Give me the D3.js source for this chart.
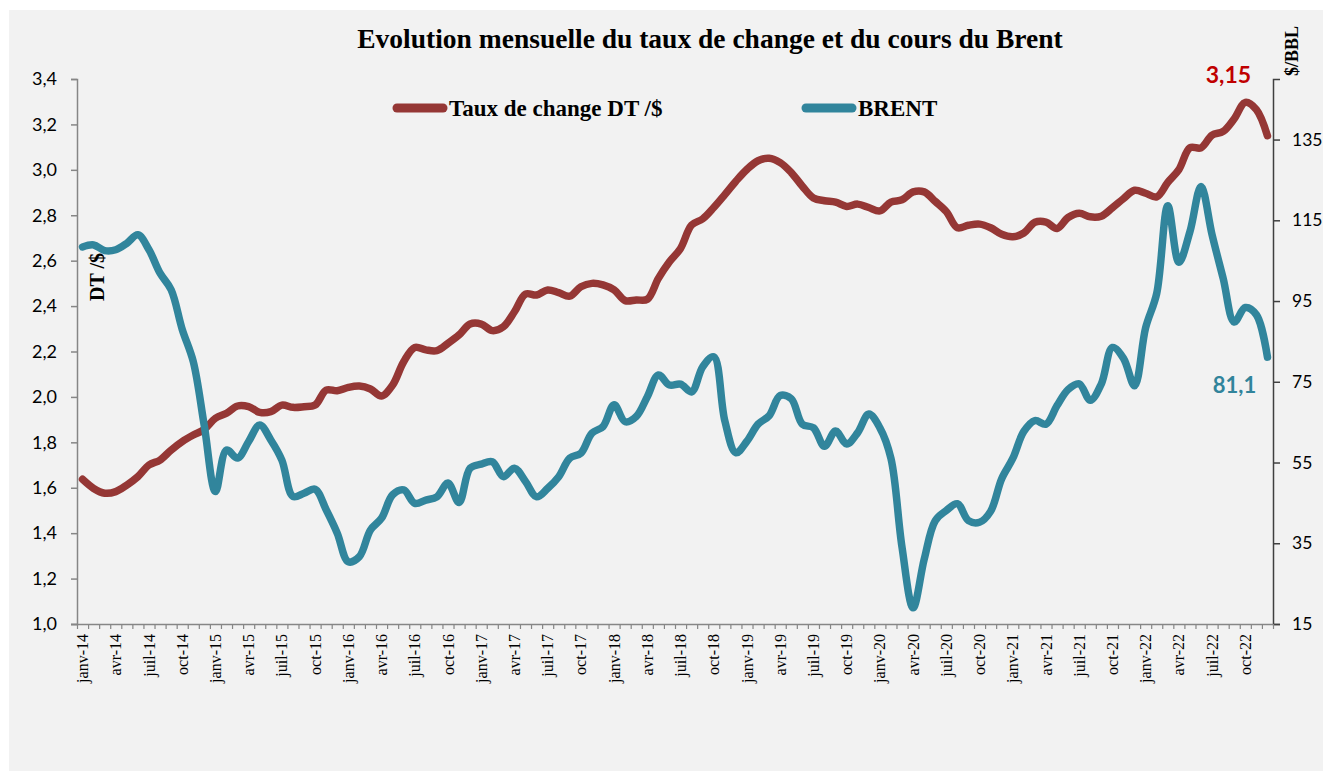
<!DOCTYPE html>
<html lang="fr">
<head>
<meta charset="utf-8">
<script src="https://cdn.jsdelivr.net/npm/d3@7"></script>
<style>
  body { margin: 0; background: #fff; }
  svg { display: block; }
</style>
</head>
<body>
<div id="chart"></div>
<script>
// Données mensuelles janv-14 .. déc-22
const mois = ["janv", "févr", "mars", "avr", "mai", "juin", "juil", "août", "sept", "oct", "nov", "déc"];
const annees = ["14", "15", "16", "17", "18", "19", "20", "21", "22"];

const tauxChange = [
  1.637, 1.597, 1.576, 1.583, 1.612, 1.649, 1.700, 1.722, 1.766, 1.803, 1.832, 1.857,
  1.906, 1.928, 1.960, 1.957, 1.932, 1.935, 1.964, 1.954, 1.957, 1.964, 2.030, 2.027,
  2.042, 2.048, 2.035, 2.004, 2.052, 2.155, 2.218, 2.207, 2.204, 2.236, 2.273, 2.321,
  2.321, 2.292, 2.309, 2.375, 2.453, 2.449, 2.471, 2.459, 2.444, 2.485, 2.500, 2.493,
  2.471, 2.424, 2.427, 2.430, 2.522, 2.595, 2.654, 2.757, 2.784, 2.834, 2.891, 2.950,
  3.002, 3.040, 3.051, 3.032, 2.988, 2.928, 2.876, 2.864, 2.858, 2.839, 2.849, 2.834,
  2.819, 2.858, 2.868, 2.903, 2.903, 2.861, 2.816, 2.745, 2.756, 2.761, 2.745, 2.716,
  2.705, 2.722, 2.769, 2.770, 2.742, 2.790, 2.809, 2.793, 2.796, 2.833, 2.873, 2.910,
  2.897, 2.881, 2.945, 3.001, 3.097, 3.097, 3.153, 3.169, 3.225, 3.297, 3.265, 3.150
];

const brent = [
  108.4, 108.9, 107.5, 107.7, 109.3, 111.4, 107.7, 101.9, 97.8, 88.0, 80.0, 64.0,
  47.8, 58.1, 56.1, 60.2, 64.3, 60.6, 55.6, 46.6, 47.4, 48.4, 43.3, 37.5,
  30.4, 31.7, 38.3, 41.2, 47.0, 48.2, 44.9, 45.7, 46.5, 49.9, 45.1, 53.6,
  54.6, 55.2, 51.5, 53.6, 50.3, 46.5, 48.6, 51.5, 56.1, 57.3, 62.3, 63.9,
  69.3, 65.1, 66.4, 71.3, 76.7, 74.2, 74.4, 72.5, 78.7, 81.2, 65.3, 57.4,
  60.3, 64.5, 66.6, 71.6, 70.8, 64.5, 63.6, 59.0, 62.8, 59.6, 62.4, 67.0,
  63.6, 56.0, 34.0, 19.0, 31.0, 40.6, 43.1, 44.8, 40.6, 40.2, 42.9, 51.0,
  56.0, 62.7, 65.4, 64.5, 69.1, 73.1, 74.5, 70.4, 74.5, 83.5, 80.8, 74.0,
  88.4, 96.9, 118.6, 104.6, 112.2, 123.4, 111.4, 100.6, 89.8, 93.4, 91.6, 81.1
];

const ticksGauche = [1.0, 1.2, 1.4, 1.6, 1.8, 2.0, 2.2, 2.4, 2.6, 2.8, 3.0, 3.2, 3.4];
const ticksDroite = [15, 35, 55, 75, 95, 115, 135];
const moisAffiches = ["janv", "avr", "juil", "oct"];

const labels = [];
annees.forEach((a) => mois.forEach((m) => labels.push(`${m}-${a}`)));

const fullWidth = 1323,
  fullHeight = 771,
  margin = { top: 79, right: 50, bottom: 147, left: 77 },
  width = fullWidth - margin.left - margin.right,
  height = fullHeight - margin.top - margin.bottom;

const rouge = "#953735",
  bleu = "#31859c";

const root = d3
  .select("#chart")
  .append("svg")
  .attr("width", fullWidth)
  .attr("height", fullHeight);

root
  .append("rect")
  .attr("x", 9)
  .attr("y", 10)
  .attr("width", fullWidth - 9)
  .attr("height", fullHeight - 10)
  .attr("fill", "#f2f2f2");

const svg = root
  .append("g")
  .attr("transform", `translate(${margin.left},${margin.top})`);

const xScale = d3.scaleBand().domain(labels).range([0, width]).padding(0);
const xIndex = d3.scaleLinear().domain([0, labels.length]).range([0, width]);
const yGauche = d3.scaleLinear().domain([1.0, 3.4]).range([height, 0]);
const yDroite = d3.scaleLinear().domain([15, 150]).range([height, 0]);

const cx = (i) => xScale(labels[i]) + xScale.bandwidth() / 2;

// Axe gauche
const axeG = svg
  .append("g")
  .call(
    d3
      .axisLeft(yGauche)
      .tickValues(ticksGauche)
      .tickSize(6)
      .tickPadding(14)
      .tickFormat((d) => d3.format(".1f")(d).replace(".", ","))
  );
axeG.select(".domain").attr("stroke", "#868686").attr("stroke-width", 1.5);
axeG.selectAll(".tick line").attr("stroke", "#868686").attr("stroke-width", 1.5);
axeG
  .selectAll(".tick text")
  .style("font-family", "Lato, 'Open Sans', sans-serif")
  .style("font-size", "18px")
  .attr("fill", "#000");

// Axe droit
const axeD = svg
  .append("g")
  .attr("transform", `translate(${width},0)`)
  .call(d3.axisRight(yDroite).tickValues(ticksDroite).tickSize(7).tickPadding(12));
axeD.select(".domain").attr("stroke", "#404040").attr("stroke-width", 1.5);
axeD.selectAll(".tick line").attr("stroke", "#404040").attr("stroke-width", 1.5);
axeD
  .selectAll(".tick text")
  .style("font-family", "Lato, 'Open Sans', sans-serif")
  .style("font-size", "17.5px")
  .attr("fill", "#000");

// Axe des mois : graduations à chaque mois
const axeX = svg
  .append("g")
  .attr("transform", `translate(0,${height})`)
  .call(
    d3
      .axisBottom(xIndex)
      .tickValues(d3.range(0, labels.length + 1))
      .tickSize(5)
      .tickFormat("")
  );
axeX.select(".domain").attr("stroke", "#868686").attr("stroke-width", 1.5).attr("d", `M-6,0.5H${width}`);
axeX.selectAll(".tick line").attr("stroke", "#868686").attr("stroke-width", 1.2);

// Libellés tous les 3 mois
const axeLabels = svg
  .append("g")
  .attr("transform", `translate(0,${height})`)
  .call(
    d3
      .axisBottom(xScale)
      .tickValues(labels.filter((d) => moisAffiches.includes(d.split("-")[0])))
      .tickSize(0)
  );
axeLabels.select(".domain").remove();
axeLabels
  .selectAll(".tick text")
  .attr("transform", "rotate(-90)")
  .attr("x", -10)
  .attr("y", 0)
  .attr("dy", "0.35em")
  .style("text-anchor", "end")
  .style("font-family", "'Liberation Serif', serif")
  .style("font-size", "16px")
  .attr("fill", "#000");

// Courbes
const ligneTaux = d3
  .line()
  .x((d, i) => cx(i))
  .y((d) => yGauche(d))
  .curve(d3.curveCatmullRom.alpha(0.5));

const ligneBrent = d3
  .line()
  .x((d, i) => cx(i))
  .y((d) => yDroite(d))
  .curve(d3.curveCatmullRom.alpha(0.5));

svg
  .append("path")
  .datum(tauxChange)
  .attr("fill", "none")
  .attr("stroke", rouge)
  .attr("stroke-width", 7.5)
  .attr("stroke-linecap", "round")
  .attr("stroke-linejoin", "round")
  .attr("d", ligneTaux);

svg
  .append("path")
  .datum(brent)
  .attr("fill", "none")
  .attr("stroke", bleu)
  .attr("stroke-width", 7.5)
  .attr("stroke-linecap", "round")
  .attr("stroke-linejoin", "round")
  .attr("d", ligneBrent);

// Étiquettes des dernières valeurs
const last = labels.length - 1;
svg
  .append("text")
  .attr("x", cx(last) - 39)
  .attr("y", yGauche(tauxChange[last]) - 53)
  .style("text-anchor", "middle")
  .style("font-family", "Lato, 'Open Sans', sans-serif")
  .style("font-weight", "bold")
  .style("font-size", "23px")
  .attr("fill", "#c00000")
  .text(d3.format(".2f")(tauxChange[last]).replace(".", ","));

svg
  .append("text")
  .attr("x", cx(last) - 33)
  .attr("y", yDroite(brent[last]) + 36)
  .style("text-anchor", "middle")
  .style("font-family", "Lato, 'Open Sans', sans-serif")
  .style("font-weight", "bold")
  .style("font-size", "22px")
  .attr("fill", "#31849b")
  .text(d3.format(".1f")(brent[last]).replace(".", ","));

// Titre
root
  .append("text")
  .attr("x", 710)
  .attr("y", 48)
  .style("text-anchor", "middle")
  .style("font-family", "'Liberation Serif', serif")
  .style("font-weight", "bold")
  .style("font-size", "27.5px")
  .text("Evolution mensuelle du taux de change et du cours du Brent");

// Titres des axes
root
  .append("text")
  .attr("transform", "translate(104,277) rotate(-90)")
  .style("text-anchor", "middle")
  .style("font-family", "'Liberation Serif', serif")
  .style("font-weight", "bold")
  .style("font-size", "20px")
  .text("DT /$");

root
  .append("text")
  .attr("transform", "translate(1298,51) rotate(-90)")
  .style("text-anchor", "middle")
  .style("font-family", "'Liberation Serif', serif")
  .style("font-weight", "bold")
  .style("font-size", "18px")
  .text("$/BBL");

// Légende
const legende = [
  { nom: "Taux de change DT /$", couleur: rouge, x: 397 },
  { nom: "BRENT", couleur: bleu, x: 806 },
];

const leg = root
  .selectAll(".legende")
  .data(legende)
  .enter()
  .append("g")
  .attr("class", "legende")
  .attr("transform", (d) => `translate(${d.x},108)`);

leg
  .append("line")
  .attr("x1", 0)
  .attr("x2", 46)
  .attr("stroke", (d) => d.couleur)
  .attr("stroke-width", 9)
  .attr("stroke-linecap", "round");

leg
  .append("text")
  .attr("x", 52)
  .attr("y", 8)
  .style("font-family", "'Liberation Serif', serif")
  .style("font-weight", "bold")
  .style("font-size", "23px")
  .text((d) => d.nom);
</script>
</body>
</html>
